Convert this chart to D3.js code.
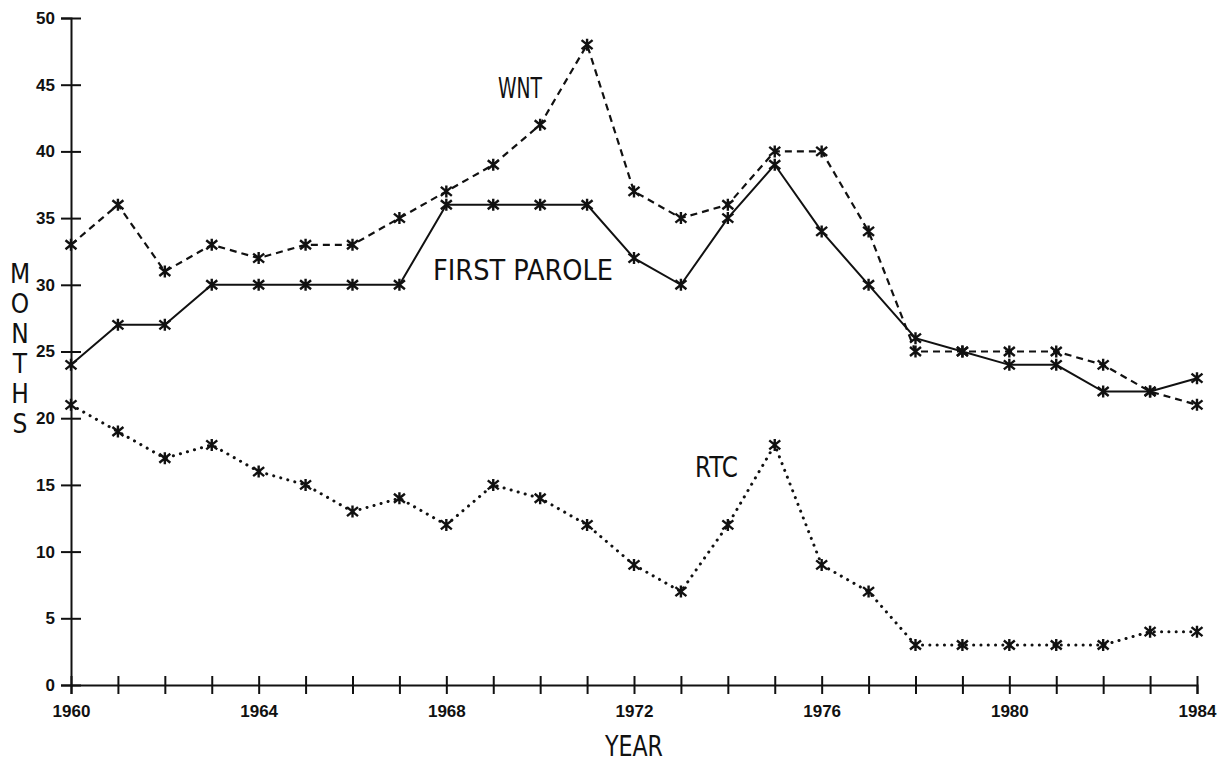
<!DOCTYPE html>
<html>
<head>
<meta charset="utf-8">
<script src="https://cdn.jsdelivr.net/npm/d3@7"></script>
<style>
	body { margin: 0; background: #fff; }
	svg { display: block; }
</style>
</head>
<body>
<script>
	var years = [1960, 1961, 1962, 1963, 1964, 1965, 1966, 1967, 1968, 1969, 1970, 1971, 1972,
				 1973, 1974, 1975, 1976, 1977, 1978, 1979, 1980, 1981, 1982, 1983, 1984];

	var wnt = [33, 36, 31, 33, 32, 33, 33, 35, 37, 39, 42, 48, 37,
			   35, 36, 40, 40, 34, 25, 25, 25, 25, 24, 22, 21];

	var firstParole = [24, 27, 27, 30, 30, 30, 30, 30, 36, 36, 36, 36, 32,
					   30, 35, 39, 34, 30, 26, 25, 24, 24, 22, 22, 23];

	var rtc = [21, 19, 17, 18, 16, 15, 13, 14, 12, 15, 14, 12, 9,
			   7, 12, 18, 9, 7, 3, 3, 3, 3, 3, 4, 4];

	var yTicks = [0, 5, 10, 15, 20, 25, 30, 35, 40, 45, 50];
	var xLabelYears = [1960, 1964, 1968, 1972, 1976, 1980, 1984];

	var w = 1224;
	var h = 765;
	var font = "'DejaVu Sans Condensed', 'DejaVu Sans', sans-serif";
	var tickFont = "'Liberation Sans', Arial, sans-serif";

	var svg = d3.select("body").append("svg")
		.attr("width", w)
		.attr("height", h);

	var x = d3.scaleLinear().domain([1960, 1984]).range([71, 1197]);
	var y = d3.scaleLinear().domain([0, 50]).range([685, 18]);

	// x axis: tick every year, label every 4 years
	var xAxis = svg.append("g")
		.attr("transform", "translate(0," + y(0) + ")")
		.call(d3.axisBottom(x)
			.tickValues(years)
			.tickSizeOuter(0)
			.tickSize(9)
			.tickPadding(11)
			.tickFormat(function(d) {
				return xLabelYears.indexOf(d) >= 0 ? d : "";
			}));

	xAxis.selectAll(".tick line").attr("y1", -9).attr("y2", 9);

	// y axis
	var yAxis = svg.append("g")
		.attr("transform", "translate(" + x(1960) + ",0)")
		.call(d3.axisLeft(y)
			.tickValues(yTicks)
			.tickSizeOuter(0)
			.tickSize(10)
			.tickPadding(6));

	yAxis.selectAll(".tick line").attr("x1", -10).attr("x2", 10);

	svg.selectAll(".domain, .tick line")
		.attr("stroke", "#111")
		.attr("stroke-width", 2);

	svg.selectAll(".tick text")
		.attr("font-family", tickFont)
		.attr("font-size", "17px")
		.attr("font-weight", "bold")
		.attr("fill", "#111");

	// series
	var series = [
		{ name: "wnt", values: wnt, dash: "7,5", cap: "butt", width: 2.2 },
		{ name: "first", values: firstParole, dash: null, cap: "butt", width: 2 },
		{ name: "rtc", values: rtc, dash: "0.1,7.2", cap: "round", width: 3 }
	];

	var line = d3.line()
		.x(function(d, i) { return x(years[i]); })
		.y(function(d) { return y(d); });

	series.forEach(function(s) {
		svg.append("path")
			.datum(s.values)
			.attr("d", line)
			.attr("fill", "none")
			.attr("stroke", "#111")
			.attr("stroke-width", s.width)
			.attr("stroke-linecap", s.cap)
			.attr("stroke-dasharray", s.dash);

		svg.selectAll(".mk-" + s.name)
			.data(s.values)
			.enter()
			.append("path")
			.attr("class", "mk-" + s.name)
			.attr("transform", function(d, i) {
				return "translate(" + x(years[i]) + "," + y(d) + ")";
			})
			.attr("d", "M-5.5,-4.5L5.5,4.5M-5.5,4.5L5.5,-4.5M0,-6L0,6")
			.attr("fill", "none")
			.attr("stroke", "#111")
			.attr("stroke-width", 2.4);
	});

	// series labels (left edge x, baseline y, width in px)
	var labels = [
		{ text: "WNT", px: 498, py: 98, len: 44 },
		{ text: "FIRST PAROLE", px: 433, py: 280, len: 180 },
		{ text: "RTC", px: 695, py: 477, len: 43 }
	];

	svg.selectAll(".series-label")
		.data(labels)
		.enter()
		.append("text")
		.attr("class", "series-label")
		.attr("x", function(d) { return d.px; })
		.attr("y", function(d) { return d.py; })
		.attr("textLength", function(d) { return d.len; })
		.attr("lengthAdjust", "spacingAndGlyphs")
		.attr("font-family", font)
		.attr("font-size", "28px")
		.attr("fill", "#111")
		.text(function(d) { return d.text; });

	// axis titles
	svg.append("text")
		.attr("x", 605)
		.attr("y", 756)
		.attr("textLength", 58)
		.attr("lengthAdjust", "spacingAndGlyphs")
		.attr("font-family", font)
		.attr("font-size", "29px")
		.attr("fill", "#111")
		.text("YEAR");

	var yTitle = "MONTHS".split("");
	svg.selectAll(".ytitle")
		.data(yTitle)
		.enter()
		.append("text")
		.attr("class", "ytitle")
		.attr("x", 20)
		.attr("y", function(d, i) { return 283 + i * 30; })
		.attr("text-anchor", "middle")
		.attr("font-family", font)
		.attr("font-size", "26px")
		.attr("fill", "#111")
		.text(function(d) { return d; });
</script>
</body>
</html>
